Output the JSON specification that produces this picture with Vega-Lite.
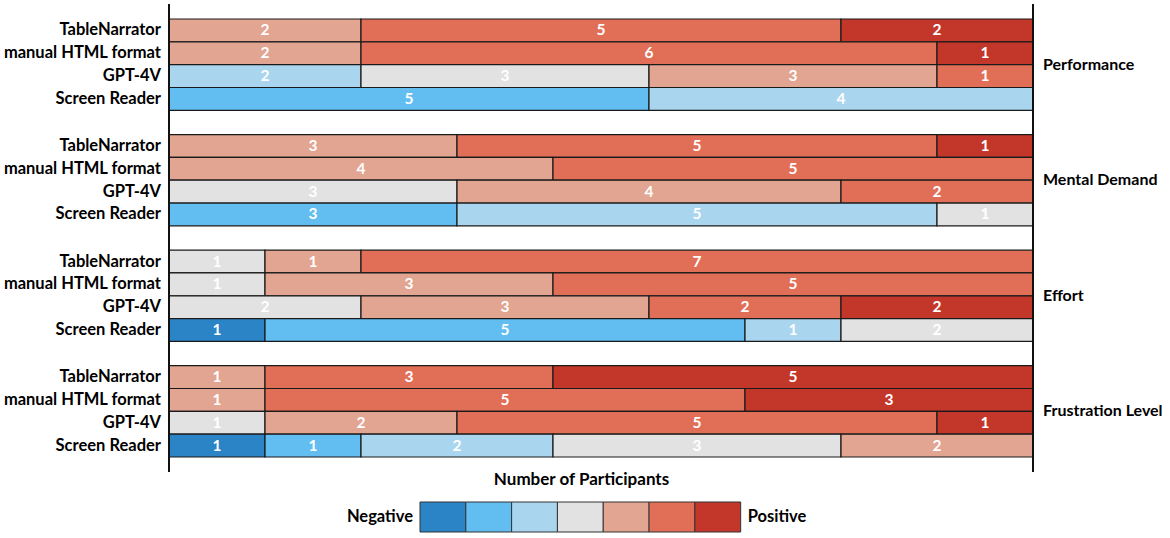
{
  "$schema": "https://vega.github.io/schema/vega-lite/v6.json",
  "padding": {"left": 3, "top": 3, "right": 0, "bottom": 3},
  "background": "white",
  "config": {"view": {"stroke": null}, "font": "Lato"},
  "spacing": 14,
  "datasets": {
    "main": [
      {"group": "Performance", "tool": "TableNarrator", "level": 5, "count": 2},
      {"group": "Performance", "tool": "TableNarrator", "level": 6, "count": 5},
      {"group": "Performance", "tool": "TableNarrator", "level": 7, "count": 2},
      {"group": "Performance", "tool": "manual HTML format", "level": 5, "count": 2},
      {"group": "Performance", "tool": "manual HTML format", "level": 6, "count": 6},
      {"group": "Performance", "tool": "manual HTML format", "level": 7, "count": 1},
      {"group": "Performance", "tool": "GPT-4V", "level": 3, "count": 2},
      {"group": "Performance", "tool": "GPT-4V", "level": 4, "count": 3},
      {"group": "Performance", "tool": "GPT-4V", "level": 5, "count": 3},
      {"group": "Performance", "tool": "GPT-4V", "level": 6, "count": 1},
      {"group": "Performance", "tool": "Screen Reader", "level": 2, "count": 5},
      {"group": "Performance", "tool": "Screen Reader", "level": 3, "count": 4},
      {"group": "Mental Demand", "tool": "TableNarrator", "level": 5, "count": 3},
      {"group": "Mental Demand", "tool": "TableNarrator", "level": 6, "count": 5},
      {"group": "Mental Demand", "tool": "TableNarrator", "level": 7, "count": 1},
      {"group": "Mental Demand", "tool": "manual HTML format", "level": 5, "count": 4},
      {"group": "Mental Demand", "tool": "manual HTML format", "level": 6, "count": 5},
      {"group": "Mental Demand", "tool": "GPT-4V", "level": 4, "count": 3},
      {"group": "Mental Demand", "tool": "GPT-4V", "level": 5, "count": 4},
      {"group": "Mental Demand", "tool": "GPT-4V", "level": 6, "count": 2},
      {"group": "Mental Demand", "tool": "Screen Reader", "level": 2, "count": 3},
      {"group": "Mental Demand", "tool": "Screen Reader", "level": 3, "count": 5},
      {"group": "Mental Demand", "tool": "Screen Reader", "level": 4, "count": 1},
      {"group": "Effort", "tool": "TableNarrator", "level": 4, "count": 1},
      {"group": "Effort", "tool": "TableNarrator", "level": 5, "count": 1},
      {"group": "Effort", "tool": "TableNarrator", "level": 6, "count": 7},
      {"group": "Effort", "tool": "manual HTML format", "level": 4, "count": 1},
      {"group": "Effort", "tool": "manual HTML format", "level": 5, "count": 3},
      {"group": "Effort", "tool": "manual HTML format", "level": 6, "count": 5},
      {"group": "Effort", "tool": "GPT-4V", "level": 4, "count": 2},
      {"group": "Effort", "tool": "GPT-4V", "level": 5, "count": 3},
      {"group": "Effort", "tool": "GPT-4V", "level": 6, "count": 2},
      {"group": "Effort", "tool": "GPT-4V", "level": 7, "count": 2},
      {"group": "Effort", "tool": "Screen Reader", "level": 1, "count": 1},
      {"group": "Effort", "tool": "Screen Reader", "level": 2, "count": 5},
      {"group": "Effort", "tool": "Screen Reader", "level": 3, "count": 1},
      {"group": "Effort", "tool": "Screen Reader", "level": 4, "count": 2},
      {"group": "Frustration Level", "tool": "TableNarrator", "level": 5, "count": 1},
      {"group": "Frustration Level", "tool": "TableNarrator", "level": 6, "count": 3},
      {"group": "Frustration Level", "tool": "TableNarrator", "level": 7, "count": 5},
      {"group": "Frustration Level", "tool": "manual HTML format", "level": 5, "count": 1},
      {"group": "Frustration Level", "tool": "manual HTML format", "level": 6, "count": 5},
      {"group": "Frustration Level", "tool": "manual HTML format", "level": 7, "count": 3},
      {"group": "Frustration Level", "tool": "GPT-4V", "level": 4, "count": 1},
      {"group": "Frustration Level", "tool": "GPT-4V", "level": 5, "count": 2},
      {"group": "Frustration Level", "tool": "GPT-4V", "level": 6, "count": 5},
      {"group": "Frustration Level", "tool": "GPT-4V", "level": 7, "count": 1},
      {"group": "Frustration Level", "tool": "Screen Reader", "level": 1, "count": 1},
      {"group": "Frustration Level", "tool": "Screen Reader", "level": 2, "count": 1},
      {"group": "Frustration Level", "tool": "Screen Reader", "level": 3, "count": 2},
      {"group": "Frustration Level", "tool": "Screen Reader", "level": 4, "count": 3},
      {"group": "Frustration Level", "tool": "Screen Reader", "level": 5, "count": 2}
    ],
    "groups": [
      {"group": "Performance"},
      {"group": "Mental Demand"},
      {"group": "Effort"},
      {"group": "Frustration Level"}
    ],
    "edges": [{"v": 0}, {"v": 9}],
    "legend": [
      {"level": 1}, {"level": 2}, {"level": 3}, {"level": 4},
      {"level": 5}, {"level": 6}, {"level": 7}
    ]
  },
  "vconcat": [
    {
      "width": 864,
      "height": 468,
      "encoding": {
        "y": {
          "field": "group",
          "type": "nominal",
          "sort": ["Performance", "Mental Demand", "Effort", "Frustration Level"],
          "scale": {"domain": ["Performance", "Mental Demand", "Effort", "Frustration Level"], "paddingInner": 0.21, "paddingOuter": 0.13},
          "axis": {"labels": false, "ticks": false, "domain": false, "title": null, "grid": false, "minExtent": 165, "maxExtent": 165}
        }
      },
      "layer": [
        {
          "data": {"name": "main"},
          "mark": {"type": "bar", "stroke": "#1a1a1a", "strokeWidth": 1.2},
          "encoding": {
            "yOffset": {
              "field": "tool",
              "type": "nominal",
              "scale": {"domain": ["TableNarrator", "manual HTML format", "GPT-4V", "Screen Reader"], "paddingInner": 0, "paddingOuter": 0}
            },
            "x": {
              "field": "count",
              "type": "quantitative",
              "stack": "zero",
              "scale": {"domain": [0, 9], "nice": false, "zero": true},
              "axis": {"labels": false, "ticks": false, "domain": false, "grid": false, "title": "Number of Participants", "titleFontSize": 17, "titleFontWeight": "bold", "titleColor": "#000000", "titlePadding": -1, "titleX": 412}
            },
            "color": {
              "field": "level",
              "type": "ordinal",
              "scale": {"domain": [1, 2, 3, 4, 5, 6, 7], "range": ["#2b84c6", "#62bdf0", "#a9d5ee", "#e2e2e2", "#e2a592", "#e16f58", "#c3372a"]},
              "legend": null
            },
            "order": {"field": "level", "type": "quantitative"}
          }
        },
        {
          "data": {"name": "main"},
          "mark": {"type": "text", "color": "white", "fontWeight": "bold", "fontSize": 15.5, "baseline": "middle", "align": "center"},
          "encoding": {
            "yOffset": {
              "field": "tool",
              "type": "nominal",
              "scale": {"domain": ["TableNarrator", "manual HTML format", "GPT-4V", "Screen Reader"], "paddingInner": 0, "paddingOuter": 0}
            },
            "x": {"field": "count", "type": "quantitative", "stack": "zero", "bandPosition": 0.5},
            "detail": {"field": "level", "type": "ordinal"},
            "order": {"field": "level", "type": "quantitative"},
            "text": {"field": "count", "type": "quantitative"}
          }
        },
        {
          "data": {"name": "main"},
          "transform": [{"aggregate": [{"op": "count", "as": "n"}], "groupby": ["group", "tool"]}],
          "mark": {"type": "text", "color": "black", "fontWeight": "bold", "fontSize": 16.5, "baseline": "middle", "align": "right", "dx": -8},
          "encoding": {
            "yOffset": {
              "field": "tool",
              "type": "nominal",
              "scale": {"domain": ["TableNarrator", "manual HTML format", "GPT-4V", "Screen Reader"], "paddingInner": 0, "paddingOuter": 0}
            },
            "x": {"datum": 0},
            "text": {"field": "tool", "type": "nominal"}
          }
        },
        {
          "data": {"name": "groups"},
          "mark": {"type": "text", "color": "black", "fontWeight": "bold", "fontSize": 16, "baseline": "middle", "align": "left", "dx": 10},
          "encoding": {
            "x": {"datum": 9},
            "text": {"field": "group", "type": "nominal"}
          }
        },
        {
          "data": {"name": "edges"},
          "mark": {"type": "rule", "color": "#111111", "strokeWidth": 2},
          "encoding": {
            "x": {"field": "v", "type": "quantitative"},
            "y": null
          }
        }
      ]
    },
    {
      "data": {"name": "legend"},
      "width": 864,
      "height": 30,
      "layer": [
        {
          "mark": {"type": "rect", "stroke": "#333333", "strokeWidth": 1},
          "encoding": {
            "x": {"field": "level", "type": "ordinal", "scale": {"domain": [-4, -3, -2, -1, 0, 1, 2, 3, 4, 5, 6, 7, 8, 9, 10, 11, 12, 13], "paddingInner": 0, "paddingOuter": 0.43, "align": 0.557}, "axis": null},
            "color": {
              "field": "level",
              "type": "ordinal",
              "scale": {"domain": [1, 2, 3, 4, 5, 6, 7], "range": ["#2b84c6", "#62bdf0", "#a9d5ee", "#e2e2e2", "#e2a592", "#e16f58", "#c3372a"]},
              "legend": null
            }
          }
        },
        {
          "transform": [{"filter": "datum.level == 1"}],
          "mark": {"type": "text", "text": "Negative", "fontWeight": "bold", "fontSize": 16.5, "align": "right", "baseline": "middle", "dx": -7, "color": "black"},
          "encoding": {"x": {"field": "level", "type": "ordinal", "bandPosition": 0}}
        },
        {
          "transform": [{"filter": "datum.level == 7"}],
          "mark": {"type": "text", "text": "Positive", "fontWeight": "bold", "fontSize": 16.5, "align": "left", "baseline": "middle", "dx": 7, "color": "black"},
          "encoding": {"x": {"field": "level", "type": "ordinal", "bandPosition": 1}}
        }
      ]
    }
  ]
}
